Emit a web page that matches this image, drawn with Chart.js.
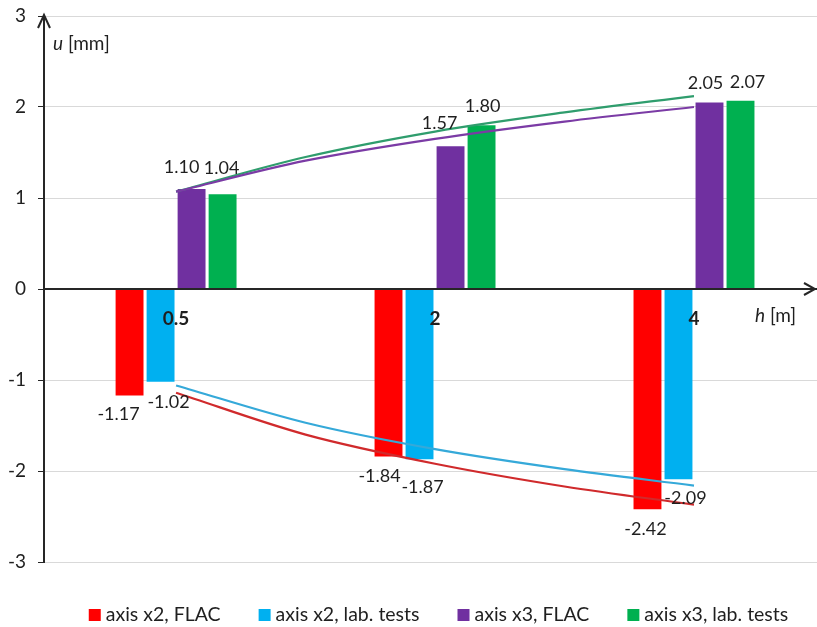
<!DOCTYPE html>
<html>
<head>
<meta charset="utf-8">
<script src="https://cdn.jsdelivr.net/npm/chart.js@4.4.0/dist/chart.umd.min.js"></script>
<style>
  html, body { margin: 0; padding: 0; background: #ffffff; }
</style>
</head>
<body>
<canvas id="chart" width="817" height="627"></canvas>
<script>
// Depth h [m] of each measuring group and its position on the horizontal scale
const groupLabels = ['0.5', '2', '4'];
const groupPos = [1, 2, 3];

// Displacement u [mm] per group
const x2Flac = [-1.17, -1.84, -2.42];
const x2Lab  = [-1.02, -1.87, -2.09];
const x3Flac = [1.10, 1.57, 2.05];
const x3Lab  = [1.04, 1.80, 2.07];

// Trend curves through each series
const trendPos      = [1, 1.5, 2, 2.5, 3];
const trendX2Flac   = [-1.14, -1.60, -1.92, -2.17, -2.37];
const trendX2Lab    = [-1.06, -1.47, -1.76, -1.98, -2.16];
const trendX3Flac   = [1.07, 1.41, 1.65, 1.84, 2.00];
const trendX3Lab    = [1.07, 1.45, 1.73, 1.94, 2.12];

// Vertical axis ticks
const yTicks = [-3, -2, -1, 0, 1, 2, 3];

// Value-label placement: horizontal shift and distance from the bar end (px)
const labelDx = [[-11, -9, -2], [8, 3, 7], [-10, -11, -4], [-1, 1, 7]];
const labelGap = [[19, 20, 20], [20, 28, 19], [22, 23, 19], [26, 19, 18]];

const FONT = 'Lato, "Open Sans", sans-serif';
const TEXT = '#1f1f1f';

function pts(xs, ys) { return xs.map((x, k) => ({ x: x, y: ys[k] })); }

function barSet(label, values, color) {
  return { type: 'bar', label: label, data: pts(groupPos, values), backgroundColor: color,
           borderWidth: 0, order: 1, barPercentage: 0.9, categoryPercentage: 0.479 };
}
function trendSet(label, values, color) {
  return { type: 'line', label: label, data: pts(trendPos, values), borderColor: color,
           borderWidth: 2.2, pointRadius: 0, fill: false, cubicInterpolationMode: 'monotone', order: 0 };
}

// Numeric labels at the end of every bar
const valueLabels = {
  id: 'valueLabels',
  afterDatasetsDraw(chart) {
    const ctx = chart.ctx;
    ctx.save();
    ctx.font = '18px ' + FONT;
    ctx.fillStyle = TEXT;
    ctx.textAlign = 'center';
    ctx.textBaseline = 'middle';
    let b = 0;
    chart.data.datasets.forEach((ds, i) => {
      if (ds.type !== 'bar') return;
      const meta = chart.getDatasetMeta(i);
      meta.data.forEach((bar, j) => {
        const v = ds.data[j].y;
        const gap = labelGap[b][j];
        const y = v >= 0 ? bar.y - gap : bar.y + gap;
        ctx.fillText(v.toFixed(2), bar.x + labelDx[b][j], y);
      });
      b++;
    });
    ctx.restore();
  }
};

// Arrow heads, axis titles and the legend row for the bar series
const axisDecor = {
  id: 'axisDecor',
  afterDraw(chart) {
    const ctx = chart.ctx;
    const ys = chart.scales.y;
    const left = chart.chartArea.left, top = chart.chartArea.top, right = chart.chartArea.right;
    const bottom = chart.chartArea.bottom;
    const zeroY = ys.getPixelForValue(0);
    ctx.save();
    ctx.strokeStyle = '#262626';
    ctx.lineWidth = 2;
    ctx.beginPath();
    ctx.moveTo(left - 6, top + 12); ctx.lineTo(left, top - 1); ctx.lineTo(left + 6, top + 12);
    ctx.stroke();
    ctx.beginPath();
    ctx.moveTo(right - 13, zeroY - 6); ctx.lineTo(right - 2, zeroY); ctx.lineTo(right - 13, zeroY + 6);
    ctx.stroke();

    ctx.fillStyle = TEXT;
    ctx.textBaseline = 'middle';
    ctx.textAlign = 'left';
    ctx.font = 'italic 19px ' + FONT;
    let x0 = left + 9;
    ctx.fillText('u', x0, top + 28);
    x0 += ctx.measureText('u').width;
    ctx.font = '19px ' + FONT;
    ctx.fillText(' [mm]', x0, top + 28);
    ctx.font = 'italic 19px ' + FONT;
    let hx = right - 62;
    ctx.fillText('h', hx, zeroY + 27);
    hx += ctx.measureText('h').width;
    ctx.font = '19px ' + FONT;
    ctx.fillText(' [m]', hx, zeroY + 27);

    // legend
    const bars = chart.data.datasets.filter(d => d.type === 'bar');
    const box = 12, boxGap = 5, itemGap = 38;
    ctx.font = '19.5px ' + FONT;
    const widths = bars.map(d => box + boxGap + ctx.measureText(d.label).width);
    const total = widths.reduce((a, w) => a + w, 0) + itemGap * (bars.length - 1);
    let lx = (left + right) / 2 + 8 - total / 2;
    const ly = bottom + 53;
    bars.forEach((d, k) => {
      ctx.fillStyle = d.backgroundColor;
      ctx.fillRect(lx, ly - box / 2, box, box);
      ctx.fillStyle = TEXT;
      ctx.fillText(d.label, lx + box + boxGap, ly);
      lx += widths[k] + itemGap;
    });
    ctx.restore();
  }
};

new Chart(document.getElementById('chart'), {
  data: {
    datasets: [
      barSet('axis x2, FLAC', x2Flac, '#ff0000'),
      barSet('axis x2, lab. tests', x2Lab, '#00b0f0'),
      barSet('axis x3, FLAC', x3Flac, '#7030a0'),
      barSet('axis x3, lab. tests', x3Lab, '#00b050'),
      trendSet('trend x2, FLAC', trendX2Flac, '#d02a2c'),
      trendSet('trend x2, lab. tests', trendX2Lab, '#35a9d9'),
      trendSet('trend x3, FLAC', trendX3Flac, '#7b3ba5'),
      trendSet('trend x3, lab. tests', trendX3Lab, '#2f9d6d')
    ]
  },
  options: {
    responsive: false,
    animation: false,
    layout: { padding: { top: 16, right: 0, bottom: 65, left: 0 } },
    scales: {
      x: {
        type: 'linear',
        position: { y: 0 },
        offset: false,
        min: 0.49,
        max: 3.475,
        grid: { display: false, drawTicks: false },
        border: { display: true, color: '#262626', width: 2, z: 1 },
        ticks: {
          z: 1,
          font: { family: FONT, size: 19, weight: 'bold' },
          color: TEXT,
          padding: 18,
          maxRotation: 0,
          autoSkip: false,
          callback: (v) => { const k = groupPos.indexOf(v); return k >= 0 ? groupLabels[k] : ''; }
        },
        afterBuildTicks: (s) => { s.ticks = groupPos.map(v => ({ value: v })); },
        afterFit: (s) => { s.height = 0; s.paddingLeft = 0; s.paddingRight = 0; }
      },
      y: {
        min: -3,
        max: 3,
        grid: { color: '#d9d9d9', lineWidth: 1, tickLength: 6, tickColor: '#262626' },
        border: { color: '#262626', width: 2 },
        ticks: { font: { family: FONT, size: 19 }, color: TEXT, padding: 12 },
        afterBuildTicks: (s) => { s.ticks = yTicks.map(v => ({ value: v })); },
        afterFit: (s) => { s.width = 44; s.paddingTop = 0; s.paddingBottom = 0; }
      }
    },
    plugins: {
      tooltip: { enabled: false },
      legend: { display: false }
    }
  },
  plugins: [valueLabels, axisDecor]
});
</script>
</body>
</html>
